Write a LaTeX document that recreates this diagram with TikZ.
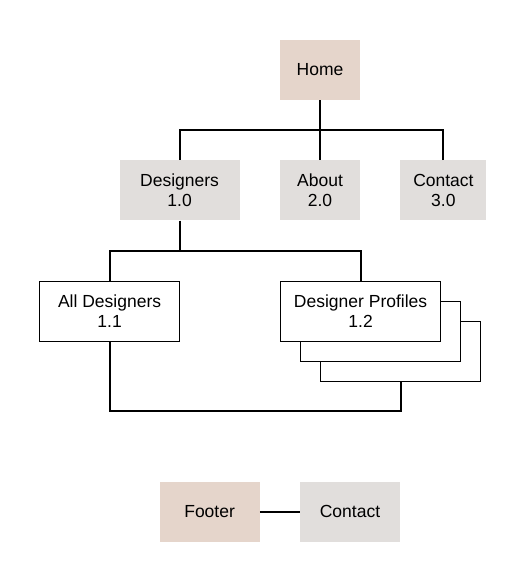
\documentclass[tikz,border=0pt]{standalone}
\usepackage{fontspec}
\setmainfont{Liberation Sans}
\usepackage{xcolor}
\usepackage{tikz}
\usetikzlibrary{positioning}

\definecolor{tan}{HTML}{E5D5CB}
\definecolor{stone}{HTML}{E1DEDC}

\begin{document}
\begin{tikzpicture}[node distance=60pt, auto]
    \tikzstyle{page} = [rectangle, draw=none, fill=stone, text centered, align=center, minimum height=60pt, inner sep=0pt, font=\fontsize{17.5}{20}\selectfont]
    \tikzstyle{root} = [page, fill=tan]
    \tikzstyle{sub} = [page, draw, fill=white, line width=1pt]
    \tikzstyle{line} = [draw, line width=2pt]
    
    \useasboundingbox (0,0) rectangle (526pt,-580pt);
    
    \node [root, minimum width=80pt] (home) at (320pt,-70pt) {Home};
    \node [page, minimum width=80pt, below=60pt of home] (about) {About\\2.0};
    \node [page, minimum width=120pt, left=40pt of about] (designers) {Designers\\1.0};
    \node [page, minimum width=86pt, right=40pt of about] (contact) {Contact\\3.0};
    
    \node [sub, minimum width=140pt, below=60pt of designers, xshift=-70pt] (alldes) {All Designers\\1.1};
    % stacked copies behind the profiles card
    \node [sub, minimum width=160pt, right=140pt of alldes, yshift=-40pt] (shadowb) {};
    \node [sub, minimum width=160pt, right=120pt of alldes, yshift=-20pt] (shadowa) {};
    \node [sub, minimum width=160pt, right=100pt of alldes] (profiles) {Designer Profiles\\1.2};
    
    \node [root, minimum width=100pt, below=140pt of alldes, xshift=100pt] (footer) {Footer};
    \node [page, minimum width=100pt, right=40pt of footer] (footcontact) {Contact};
    
    \coordinate [above=30pt of designers.north] (topbus);
    \coordinate [below=30pt of designers.south] (midbus);
    
    \path [line] (home) -- (about);
    \path [line] (contact.north) |- (topbus) -- (designers.north);
    \path [line] (designers.south) -- (midbus);
    \path [line] (alldes.north) |- (midbus) -| (profiles.north);
    \path [line] (alldes.south) -- ++(0,-69pt) -| (shadowb.south);
    \path [line] (footer) -- (footcontact);
\end{tikzpicture}
\end{document}
